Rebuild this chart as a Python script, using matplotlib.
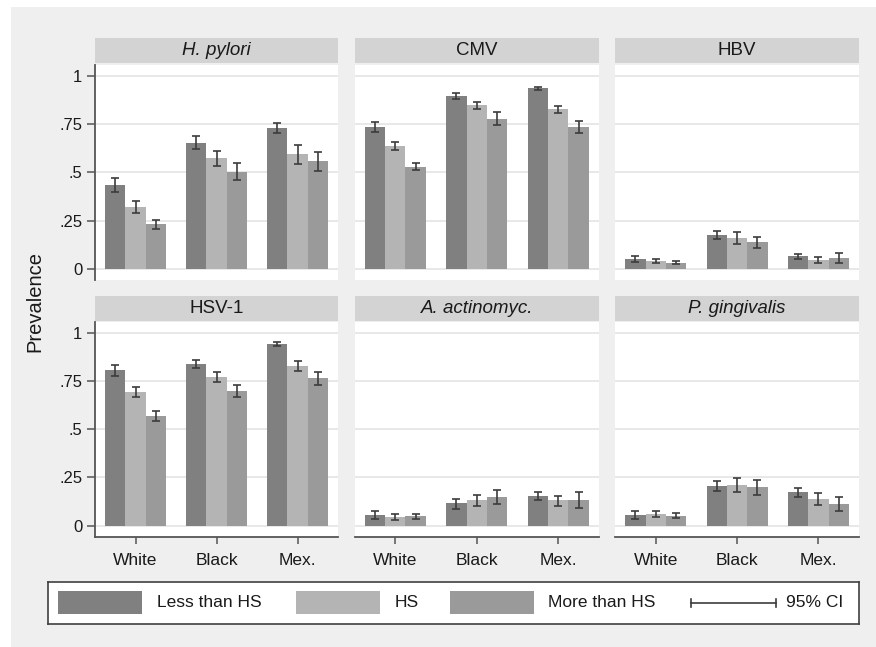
import matplotlib
matplotlib.use("Agg")
import matplotlib.pyplot as plt
from matplotlib.patches import Rectangle
import numpy as np

plt.rcParams['font.family'] = ['Liberation Sans', 'DejaVu Sans']

# ---------------- data ----------------
categories = ["White", "Black", "Mex."]
series = ["Less than HS", "HS", "More than HS"]
panel_titles = ["H. pylori", "CMV", "HBV", "HSV-1", "A. actinomyc.", "P. gingivalis"]
panel_italic = [True, False, False, False, True, True]
yticks = [0, 0.25, 0.5, 0.75, 1]
ytick_labels = ["0", ".25", ".5", ".75", "1"]

# each: rows = series (Less than HS, HS, More than HS), cols = categories
hpylori_est = [[0.433, 0.653, 0.729], [0.321, 0.572, 0.594], [0.232, 0.503, 0.556]]
hpylori_lo = [[0.396, 0.619, 0.703], [0.292, 0.534, 0.542], [0.209, 0.458, 0.508]]
hpylori_hi = [[0.468, 0.689, 0.755], [0.351, 0.611, 0.641], [0.254, 0.546, 0.606]]

cmv_est = [[0.733, 0.893, 0.935], [0.634, 0.848, 0.826], [0.529, 0.777, 0.736]]
cmv_lo = [[0.707, 0.878, 0.924], [0.613, 0.829, 0.805], [0.510, 0.743, 0.705]]
cmv_hi = [[0.759, 0.909, 0.943], [0.655, 0.865, 0.843], [0.549, 0.812, 0.765]]

hbv_est = [[0.052, 0.176, 0.066], [0.043, 0.161, 0.049], [0.033, 0.137, 0.057]]
hbv_lo = [[0.038, 0.154, 0.054], [0.031, 0.131, 0.031], [0.026, 0.107, 0.031]]
hbv_hi = [[0.066, 0.194, 0.076], [0.050, 0.190, 0.064], [0.041, 0.164, 0.085]]

hsv1_est = [[0.805, 0.839, 0.941], [0.691, 0.769, 0.826], [0.568, 0.698, 0.763]]
hsv1_lo = [[0.777, 0.817, 0.933], [0.667, 0.743, 0.800], [0.544, 0.665, 0.731]]
hsv1_hi = [[0.832, 0.858, 0.950], [0.716, 0.798, 0.853], [0.594, 0.729, 0.798]]

aa_est = [[0.057, 0.116, 0.152], [0.045, 0.135, 0.131], [0.048, 0.149, 0.133]]
aa_lo = [[0.036, 0.088, 0.131], [0.029, 0.104, 0.102], [0.033, 0.112, 0.093]]
aa_hi = [[0.074, 0.138, 0.173], [0.059, 0.161, 0.155], [0.062, 0.187, 0.173]]

pg_est = [[0.057, 0.207, 0.174], [0.062, 0.211, 0.138], [0.052, 0.200, 0.112]]
pg_lo = [[0.036, 0.178, 0.150], [0.045, 0.176, 0.105], [0.038, 0.157, 0.076]]
pg_hi = [[0.078, 0.233, 0.197], [0.078, 0.245, 0.168], [0.064, 0.238, 0.147]]

panel_data = [
    (hpylori_est, hpylori_lo, hpylori_hi),
    (cmv_est, cmv_lo, cmv_hi),
    (hbv_est, hbv_lo, hbv_hi),
    (hsv1_est, hsv1_lo, hsv1_hi),
    (aa_est, aa_lo, aa_hi),
    (pg_est, pg_lo, pg_hi),
]

# ---------------- style ----------------
bar_colors = ["#808080", "#b4b4b4", "#9a9a9a"]
err_color = "#3c3c3c"
axis_color = "#555555"
header_color = "#d3d3d3"
bg_color = "#efefef"
grid_color = "#e6e6e6"

W, H = 876, 647
fig = plt.figure(figsize=(W / 100, H / 100), dpi=100)
fig.patch.set_facecolor("white")
fig.patches.append(Rectangle((11 / W, 0), 1 - 11 / W, 1 - 7 / H, transform=fig.transFigure,
                             facecolor=bg_color, edgecolor="none", zorder=-10))


def ax_px(x0, y0, x1, y1):
    return fig.add_axes([x0 / W, 1 - y1 / H, (x1 - x0) / W, (y1 - y0) / H])


cols = [(95, 338), (354.5, 599), (615, 859)]
rows = [((38, 63), (65, 280)), ((296, 321), (322, 536.7))]

x = np.arange(1, len(categories) + 1)
offsets = [-0.25, 0.0, 0.25]

for i, (title, italic, (est, lo, hi)) in enumerate(zip(panel_titles, panel_italic, panel_data)):
    r, c = divmod(i, 3)
    (hy0, hy1), (py0, py1) = rows[r]
    cx0, cx1 = cols[c]

    hax = ax_px(cx0, hy0, cx1, hy1)
    hax.set_facecolor(header_color)
    hax.set_xticks([]); hax.set_yticks([])
    for s in hax.spines.values():
        s.set_visible(False)
    hax.text(0.5, 0.5, title, ha="center", va="center", fontsize=13.5,
             style="italic" if italic else "normal", color="#1a1a1a", transform=hax.transAxes)

    ax = ax_px(cx0, py0, cx1, py1)
    ax.set_facecolor("white")
    ax.set_xlim(0.5, 3.5)
    ax.set_ylim(-0.057, 1.055)
    for yv in yticks:
        ax.axhline(yv, color=grid_color, lw=1.3, zorder=0)
    for k in range(3):
        e = np.array(est[k]); l = np.array(lo[k]); h = np.array(hi[k])
        ax.bar(x + offsets[k], e, width=0.25, color=bar_colors[k], zorder=2)
        ax.errorbar(x + offsets[k], e, yerr=[e - l, h - e], fmt="none", ecolor=err_color,
                    elinewidth=1.2, capsize=3.2, capthick=1.2, zorder=3)
    for s in ["top", "right"]:
        ax.spines[s].set_visible(False)
    ax.spines["left"].set_visible(c == 0)
    ax.spines["bottom"].set_visible(r == 1)
    ax.spines["left"].set_color(axis_color)
    ax.spines["bottom"].set_color(axis_color)
    ax.spines["left"].set_linewidth(1.3)
    ax.spines["bottom"].set_linewidth(1.3)
    if c == 0:
        ax.set_yticks(yticks)
        ax.set_yticklabels(ytick_labels)
        ax.tick_params(axis="y", length=6, width=1.1, color=axis_color, pad=3,
                       labelsize=12, labelcolor="#1a1a1a")
    else:
        ax.set_yticks([])
    if r == 1:
        ax.set_xticks(x)
        ax.set_xticklabels(categories)
        ax.tick_params(axis="x", length=5, width=1.1, color=axis_color, pad=7,
                       labelsize=12.5, labelcolor="#1a1a1a")
    else:
        ax.set_xticks([])

fig.text(35 / W, 1 - 301 / H, "Prevalence", rotation=90, ha="center", va="center",
         fontsize=14.5, color="#1a1a1a")

# ---------------- legend ----------------
lax = ax_px(48, 582, 859, 623.5)
lax.set_xlim(48, 859)
lax.set_ylim(623.5, 582)
lax.set_facecolor("white")
lax.set_xticks([]); lax.set_yticks([])
for s in lax.spines.values():
    s.set_color("#404040")
    s.set_linewidth(1.2)
patch_x = [58, 296, 450]
text_x = [157, 395, 548]
for k in range(3):
    lax.add_patch(Rectangle((patch_x[k], 591), 84, 23, facecolor=bar_colors[k], edgecolor="none"))
    lax.text(text_x[k], 602.5, series[k], ha="left", va="center", fontsize=12.5, color="#1a1a1a")
lax.plot([691, 776], [602.5, 602.5], color=err_color, lw=1.2)
lax.plot([691, 691], [598.5, 606.5], color=err_color, lw=1.2)
lax.plot([776, 776], [598.5, 606.5], color=err_color, lw=1.2)
lax.text(785.5, 602.5, "95% CI", ha="left", va="center", fontsize=12.5, color="#1a1a1a")

fig.savefig("out.png", dpi=100)
